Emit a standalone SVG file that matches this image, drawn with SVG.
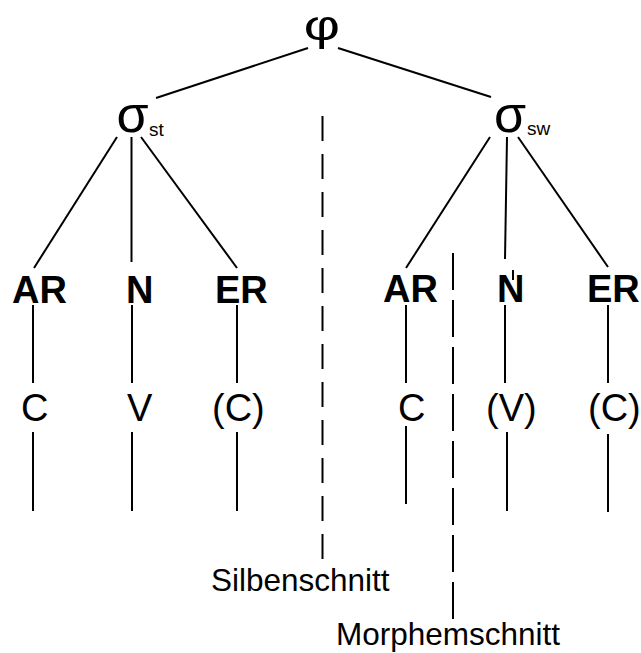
<svg xmlns="http://www.w3.org/2000/svg" width="641" height="653" viewBox="0 0 641 653">
  <style>
    .edge { stroke: #000; stroke-width: 2; fill: none; }
    .cut1 { stroke: #000; stroke-width: 2; fill: none; stroke-dasharray: 25 13; }
    .cut2 { stroke: #000; stroke-width: 2; fill: none; stroke-dasharray: 37 10; }
    text { font-family: "Liberation Sans", Arial, sans-serif; fill: #000; }
    .greek { font-size: 52px; }
    .sub { font-size: 19px; }
    .cons { font-size: 38px; font-weight: bold; }
    .seg { font-size: 38px; }
    .cap { font-size: 31.5px; }
  </style>
  <rect width="641" height="653" fill="#fff"/>

  <g id="connectors">
    <!-- foot to syllables -->
    <line class="edge" x1="308" y1="48" x2="156" y2="98"/>
    <line class="edge" x1="338" y1="48" x2="491" y2="97"/>
    <!-- stressed syllable -->
    <line class="edge" x1="117" y1="137" x2="34" y2="268"/>
    <line class="edge" x1="131.5" y1="137" x2="131.5" y2="262"/>
    <line class="edge" x1="141" y1="137" x2="237" y2="268"/>
    <!-- weak syllable -->
    <line class="edge" x1="490" y1="137" x2="406" y2="268"/>
    <line class="edge" x1="507" y1="137" x2="505" y2="259"/>
    <line class="edge" x1="513" y1="270" x2="513" y2="280"/>
    <line class="edge" x1="518" y1="137" x2="608" y2="267"/>
    <!-- constituents to segments -->
    <line class="edge" x1="33" y1="305" x2="33" y2="383"/>
    <line class="edge" x1="132" y1="305" x2="132" y2="383"/>
    <line class="edge" x1="237" y1="305" x2="237" y2="383"/>
    <line class="edge" x1="406" y1="305" x2="406" y2="383"/>
    <line class="edge" x1="505" y1="305" x2="505" y2="383"/>
    <line class="edge" x1="608" y1="305" x2="608" y2="383"/>
    <!-- segments downward -->
    <line class="edge" x1="33" y1="432" x2="33" y2="511"/>
    <line class="edge" x1="132" y1="432" x2="132" y2="511"/>
    <line class="edge" x1="237" y1="432" x2="237" y2="511"/>
    <line class="edge" x1="406" y1="426" x2="406" y2="504"/>
    <line class="edge" x1="507" y1="432" x2="507" y2="511"/>
    <line class="edge" x1="608" y1="434" x2="608" y2="512"/>
    <!-- boundaries -->
    <line class="cut1" x1="322.5" y1="116" x2="322.5" y2="560"/>
    <line class="cut2" x1="453" y1="253" x2="453" y2="619"/>
  </g>

  <g id="foot"><text transform="translate(322,40) scale(1.3,1)" text-anchor="middle" style="font-size:43px">φ</text></g>
  <g id="syl-st"><text class="greek" x="132.5" y="132" text-anchor="middle">σ</text><text class="sub" x="149" y="135.5">st</text></g>
  <g id="syl-sw"><text class="greek" x="510" y="132" text-anchor="middle">σ</text><text class="sub" x="527" y="135">sw</text></g>

  <g id="ar1"><text class="cons" x="12" y="303">AR</text></g>
  <g id="n1"><text class="cons" x="126" y="303">N</text></g>
  <g id="er1"><text class="cons" x="215" y="303">ER</text></g>
  <g id="ar2"><text class="cons" x="383" y="302">AR</text></g>
  <g id="n2"><text class="cons" x="497" y="302">N</text></g>
  <g id="er2"><text class="cons" x="587" y="302">ER</text></g>

  <g id="c1"><text class="seg" x="21" y="421">C</text></g>
  <g id="v1"><text class="seg" x="127" y="421">V</text></g>
  <g id="c2"><text class="seg" x="212" y="421">(C)</text></g>
  <g id="c3"><text class="seg" x="398" y="421">C</text></g>
  <g id="v2"><text class="seg" x="486" y="421">(V)</text></g>
  <g id="c4"><text class="seg" x="588" y="421">(C)</text></g>

  <g id="silbenschnitt"><text class="cap" x="211" y="591">Silbenschnitt</text></g>
  <g id="morphemschnitt"><text class="cap" x="336" y="645">Morphemschnitt</text></g>
</svg>
